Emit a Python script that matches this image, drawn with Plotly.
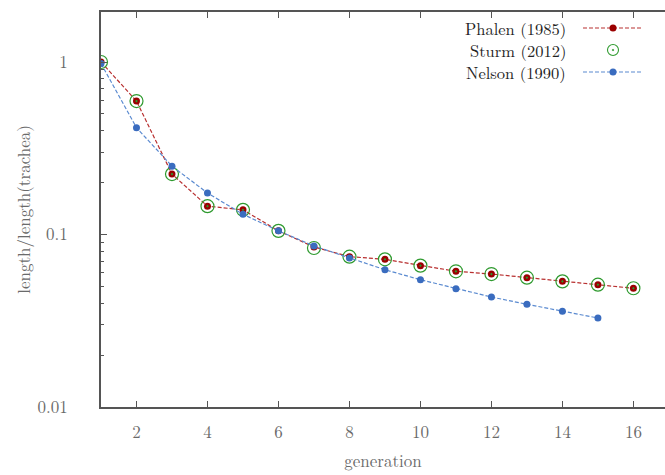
import plotly.graph_objects as go

generations = list(range(1, 17))
phalen = [1.0, 0.594, 0.224, 0.146, 0.139, 0.105, 0.0847, 0.0744, 0.0718, 0.0660,
          0.0612, 0.0590, 0.0562, 0.0535, 0.0512, 0.0488]
sturm = [1.0, 0.594, 0.224, 0.146, 0.139, 0.105, 0.0835, 0.0744, 0.0718, 0.0660,
         0.0612, 0.0590, 0.0562, 0.0535, 0.0512, 0.0488]
nelson_gen = list(range(1, 16))
nelson = [0.98, 0.416, 0.249, 0.174, 0.131, 0.105, 0.0858, 0.0731, 0.0625, 0.0547,
          0.0485, 0.0434, 0.0394, 0.0359, 0.0328]

series_names = ["Phalen (1985)", "Sturm (2012)", "Nelson (1990)"]
x_ticks = [2, 4, 6, 8, 10, 12, 14, 16]
y_tickvals = [0.01, 0.1, 1]
y_ticktext = ["0.01", "0.1", "1"]

RED = "#9b0000"
RED_LINE = "#b83030"
GREEN = "#2e9a2e"
BLUE = "#3a6cbf"
BLUE_LINE = "#5a8ad0"
AXIS = "#555555"
TXT = "#6a6a6a"
FONT = "Latin Modern Roman, Liberation Serif, serif"

fig = go.Figure()
fig.add_trace(go.Scatter(x=generations, y=phalen, mode="lines+markers",
                         line=dict(color=RED_LINE, width=1.2, dash="4px,2px"),
                         marker=dict(color=RED, size=7), showlegend=False))
fig.add_trace(go.Scatter(x=generations, y=sturm, mode="markers",
                         marker=dict(symbol="circle-open-dot", color=GREEN, size=13,
                                     line=dict(width=1.2, color=GREEN)),
                         showlegend=False))
fig.add_trace(go.Scatter(x=nelson_gen, y=nelson, mode="lines+markers",
                         line=dict(color=BLUE_LINE, width=1.2, dash="4px,2px"),
                         marker=dict(color=BLUE, size=7), showlegend=False))

# legend keys (text on left, key on right) drawn on a hidden overlay axis
leg_y = [0.9595, 0.9038, 0.8481]
lx0, lx1, lxm = 0.8546, 0.9592, 0.9078
fig.add_trace(go.Scatter(x=[lx0, lx1], y=[leg_y[0]] * 2, xaxis="x2", yaxis="y3",
                         mode="lines", line=dict(color=RED_LINE, width=1.2, dash="4px,2px"),
                         showlegend=False, hoverinfo="skip"))
fig.add_trace(go.Scatter(x=[lxm], y=[leg_y[0]], xaxis="x2", yaxis="y3", mode="markers",
                         marker=dict(color=RED, size=7), showlegend=False, hoverinfo="skip"))
fig.add_trace(go.Scatter(x=[lxm], y=[leg_y[1]], xaxis="x2", yaxis="y3", mode="markers",
                         marker=dict(symbol="circle-open-dot", color=GREEN, size=11,
                                     line=dict(width=1.1, color=GREEN)),
                         showlegend=False, hoverinfo="skip"))
fig.add_trace(go.Scatter(x=[lx0, lx1], y=[leg_y[2]] * 2, xaxis="x2", yaxis="y3",
                         mode="lines", line=dict(color=BLUE_LINE, width=1.2, dash="4px,2px"),
                         showlegend=False, hoverinfo="skip"))
fig.add_trace(go.Scatter(x=[lxm], y=[leg_y[2]], xaxis="x2", yaxis="y3", mode="markers",
                         marker=dict(color=BLUE, size=7), showlegend=False, hoverinfo="skip"))

annotations = []
for name, yy in zip(series_names, leg_y):
    annotations.append(dict(text=name, x=0.828, y=yy, xref="paper", yref="paper",
                            xanchor="right", yanchor="middle", showarrow=False,
                            font=dict(family=FONT, size=16.5, color="#222222")))

fig.update_layout(
    width=665, height=475,
    margin=dict(l=101, r=0, t=12, b=68),
    paper_bgcolor="white", plot_bgcolor="white",
    font=dict(family=FONT, size=17, color=TXT),
    annotations=annotations,
    xaxis=dict(range=[1, 16.89], tickvals=x_ticks, ticks="inside", ticklen=6,
               tickcolor=AXIS, tickwidth=1, showline=True, linecolor=AXIS, linewidth=1.5,
               mirror="ticks", showgrid=False, zeroline=False, ticklabelstandoff=9,
               title=dict(text="generation", font=dict(family=FONT, size=17, color=TXT), standoff=13),
               tickfont=dict(family=FONT, size=17, color=TXT)),
    yaxis=dict(type="log", range=[-2, 0.29], tickvals=y_tickvals, ticktext=y_ticktext,
               ticks="inside", ticklen=6, tickcolor=AXIS, tickwidth=1,
               minor=dict(ticks="inside", ticklen=3, tickcolor=AXIS, dtick="D1"),
               showline=True, linecolor=AXIS, linewidth=1.5, mirror=False,
               showgrid=False, zeroline=False, ticklabelstandoff=28,
               title=dict(text="length/length(trachea)", font=dict(family=FONT, size=17, color=TXT), standoff=3),
               tickfont=dict(family=FONT, size=17, color=TXT)),
    yaxis2=dict(type="log", range=[-2, 0.29], overlaying="y", side="right",
                tickvals=y_tickvals, showticklabels=False, ticks="inside", ticklen=6,
                tickcolor=AXIS, showline=False, showgrid=False, zeroline=False),
    xaxis2=dict(range=[0, 1], overlaying="x", visible=False),
    yaxis3=dict(range=[0, 1], overlaying="y", visible=False),
)

fig.write_html("out.html")
